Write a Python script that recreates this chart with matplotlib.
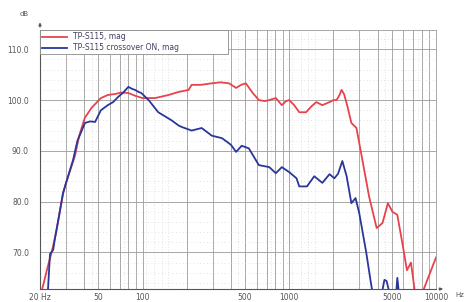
#!/usr/bin/env python3
import matplotlib
matplotlib.use('Agg')
import matplotlib.pyplot as plt
from matplotlib.ticker import FixedLocator, NullFormatter

# frequency response (Hz, dB)
red_f = [19.5, 21, 22.5, 24, 25.7, 28.7, 30.1, 34.6, 37, 40.4, 45, 52, 58, 65, 72, 80, 90,
         100, 122, 150, 176, 206, 216, 250, 296, 340, 388, 434, 470, 506, 560, 620, 680,
         730, 810, 890, 950, 1000, 1080, 1170, 1300, 1420, 1530, 1680, 1880, 2000, 2100,
         2200, 2270, 2360, 2460, 2650, 2870, 3000, 3150, 3500, 3940, 4320, 4700, 5050,
         5450, 5900, 6340, 6750, 7200, 7800, 8000, 8260, 9400, 10000]
red_db = [60, 63.5, 67, 70, 73.8, 81.5, 83.7, 89, 93, 96.5, 98.5, 100.4, 101, 101.2, 101.5,
          101.4, 100.8, 100.4, 100.4, 101, 101.6, 102, 103, 103, 103.3, 103.5, 103.3, 102.4,
          103, 103.3, 101.5, 100, 99.8, 100, 100.4, 99, 99.8, 100, 99, 97.6, 97.6, 98.8,
          99.6, 99, 99.6, 100, 100, 101, 102, 101.2, 99.4, 95.5, 94.5, 91.5, 88.2, 81, 74.8,
          75.8, 79.7, 78, 77.4, 71.8, 66.5, 68, 62, 60, 61, 62.8, 67, 69]

blue_f = [22, 22.6, 23.4, 24.6, 25.3, 26.5, 28.7, 30.1, 33.6, 36, 40.5, 44, 47.5, 52, 58, 63,
          68, 74, 80, 85, 89, 94, 98, 110, 128, 158, 176, 185, 216, 253, 296, 348, 400, 434,
          474, 530, 620, 730, 810, 890, 1000, 1120, 1170, 1320, 1480, 1680, 1880, 2030, 2150,
          2300, 2460, 2650, 2830, 3000, 3350, 3600, 3800, 4200, 4330, 4450, 4600, 4750, 4900,
          5200, 5380, 5450, 5550, 5700]
blue_db = [58, 62, 69.7, 70.5, 72.8, 76, 81.7, 83.7, 88.2, 92, 95.5, 95.8, 95.7, 98, 99, 99.6,
           100.6, 101.5, 102.6, 102.2, 102, 101.6, 101.4, 100, 97.6, 96, 95, 94.7, 94, 94.5,
           93, 92.5, 91.2, 89.8, 91, 90.5, 87.2, 86.8, 85.6, 86.8, 85.8, 84.6, 83, 83, 85,
           83.7, 85.4, 84.6, 85.5, 88, 85, 79.7, 80.7, 77.7, 69.9, 64, 60, 60, 62.8, 64.6,
           64.4, 62.8, 60, 60, 62.8, 65, 62.8, 60]

labels = ['TP-S115, mag', 'TP-S115 crossover ON, mag']
xticks = [20, 50, 100, 500, 1000, 5000, 10000]
xtick_labels = ['20 Hz', '50', '100', '500', '1000', '5000', '10000']
yticks = [70, 80, 90, 100, 110]

fig = plt.figure(figsize=(4.67, 3.02), dpi=100)
ax = fig.add_axes([40/467, 13/302, 396/467, 259/302])

# grid: solid at every integer multiple, dotted between
major_v = [m * d for d in (10, 100, 1000) for m in range(1, 10)] + [10000]
major_v = [v for v in major_v if v >= 20]
minor_v = [1.5 * v for v in major_v if 1.5 * v < 10000]
for v in major_v:
    ax.axvline(v, color='#9a9a9a', lw=0.6, zorder=0)
for v in minor_v:
    ax.axvline(v, color='#c8c8c8', lw=0.5, ls=(0, (1, 3)), zorder=0)
for h in range(64, 114, 2):
    if h % 10:
        ax.axhline(h, color='#c8c8c8', lw=0.5, ls=(0, (1, 4)), zorder=0)
for h in yticks:
    ax.axhline(h, color='#9a9a9a', lw=0.6, zorder=0)

ax.plot(red_f, red_db, color='#e6434c', lw=1.3, label=labels[0], zorder=3)
ax.plot(blue_f, blue_db, color='#29369a', lw=1.3, label=labels[1], zorder=3)

ax.set_xscale('log')
ax.set_xlim(20, 10000)
ax.set_ylim(62.8, 113.8)
ax.xaxis.set_major_locator(FixedLocator(xticks))
ax.xaxis.set_minor_formatter(NullFormatter())
ax.xaxis.set_minor_locator(FixedLocator([]))
ax.set_xticklabels(xtick_labels)
ax.set_yticks(yticks)
ax.set_yticklabels([f'{v:.1f}' for v in yticks])
ax.tick_params(length=0, labelsize=5.5, colors='#555555', pad=3)
ax.tick_params(axis='y', pad=8)

for s in ('top', 'right'):
    ax.spines[s].set_color('#9a9a9a')
    ax.spines[s].set_linewidth(0.6)
for s in ('left', 'bottom'):
    ax.spines[s].set_color('#555555')
    ax.spines[s].set_linewidth(0.8)

# axis arrows and units
ax.annotate('', xy=(0, 1.04), xytext=(0, 1.0), xycoords='axes fraction',
            arrowprops=dict(arrowstyle='-|>', color='#555555', lw=0.8,
                            mutation_scale=4), annotation_clip=False)
ax.annotate('', xy=(1.025, 0), xytext=(1.0, 0), xycoords='axes fraction',
            arrowprops=dict(arrowstyle='-|>', color='#555555', lw=0.8,
                            mutation_scale=4), annotation_clip=False)
ax.text(-0.04, 1.05, 'dB', transform=ax.transAxes, fontsize=5, color='#555555',
        ha='center', va='bottom')
ax.text(1.06, -0.01, 'Hz', transform=ax.transAxes, fontsize=5, color='#555555',
        ha='center', va='top')

leg = ax.legend(loc='upper left', bbox_to_anchor=(0, 0.86, 0.475, 0.14), mode='expand',
                fontsize=5.5, frameon=True, fancybox=False, borderaxespad=0,
                handlelength=3.2, handletextpad=0.8, labelspacing=0.25,
                borderpad=0.3)
leg.get_frame().set_edgecolor('#8a8a8a')
leg.get_frame().set_linewidth(0.6)
leg.get_frame().set_alpha(1)
for t in leg.get_texts():
    t.set_color('#404060')

fig.savefig('out.png', dpi=100)
